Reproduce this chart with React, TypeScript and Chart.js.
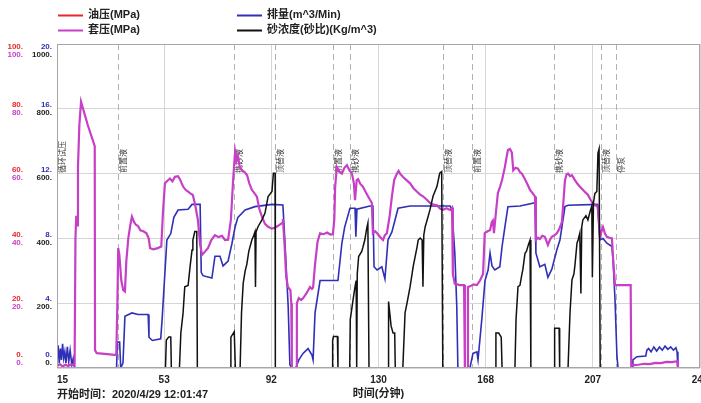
import React, { useEffect, useRef } from "react";
import { Chart, registerables } from "chart.js";

Chart.register(...registerables);

// ---------- DATA ----------
const X_MIN = 15;
const X_MAX = 245;
const X_TICK_VALUES = [15, 53.333, 91.667, 130, 168.333, 206.667, 245];
const X_TICK_LABELS = ["15", "53", "92", "130", "168", "207", "245"];

const PRESSURE_TICKS = [0, 20, 40, 60, 80, 100];
const RATE_TICKS = [0, 4, 8, 12, 16, 20];
const SAND_TICKS = [0, 200, 400, 600, 800, 1000];

const START_TIME_TEXT = "开始时间：2020/4/29 12:01:47";
const X_TITLE = "时间(分钟)";

const STAGE_TIMES = [15, 36.8, 78.3, 93.0, 113.7, 119.8, 153.1, 163.4, 192.8, 209.6, 214.9];
const STAGE_LABELS = ["循环试压", "前置液", "携砂液", "顶替液", "前置液", "携砂液", "顶替液", "前置液", "携砂液", "顶替液", "停泵"];

// 油压 (MPa)
const OIL_T = [15, 237.1];
const OIL_P = [0, 0];

// 套压 (MPa)
const CASING_T = [
  15, 16, 17, 18, 19, 20, 21.3, 21.6, 21.9, 22.2, 22.5, 23.0, 23.6, 26.0, 28.5, 28.6, 29.2, 33, 36.2, 36.6,
  36.9, 37.3, 38.0, 38.7, 39.3, 39.8, 40.5, 41.2, 41.8, 42.6, 43.2, 44.0, 44.8, 45.9, 47.0, 47.8, 48.3, 49.5, 51.0, 52.3,
  52.9, 53.6, 54.5, 55.4, 56.3, 57.2, 58.3, 59.0, 59.6, 60.1, 61.0, 61.9, 62.8, 63.6, 64.5, 65.4, 66.2, 66.9, 68.0, 69.0,
  70.2, 71.5, 72.8, 74.0, 75.1, 76.2, 77.2, 78.0, 78.7, 79.2, 79.7, 80.4, 81.2, 82.1, 83.0, 83.8, 84.7, 85.6, 86.5, 87.4,
  88.3, 89.4, 90.5, 91.8, 93.0, 94.3, 95.5, 95.8, 96.4, 97.0, 97.6, 98.5, 98.8, 99.0, 100.6, 100.8, 101.5, 102.3, 103.0, 104.2,
  105.5, 106.2, 106.6, 107.3, 108.2, 109.1, 110.4, 111.6, 112.8, 113.7, 114.2, 114.5, 115.1, 116.0, 116.9, 117.8, 118.7, 119.6, 120.5, 121.2,
  121.6, 122.2, 122.7, 123.5, 124.4, 125.6, 126.9, 127.6, 128.0, 128.8, 129.5, 130.5, 131.6, 132.3, 133.0, 134.0, 134.8, 135.6, 136.6, 137.2,
  137.7, 138.7, 140.0, 141.3, 142.5, 143.8, 144.8, 145.9, 147.2, 148.4, 149.6, 150.9, 152.0, 153.1, 154.3, 155.6, 156.3, 156.6, 157.3, 158.2,
  159.1, 160.6, 160.9, 161.8, 162.0, 162.7, 164.0, 165.2, 166.3, 167.4, 168.0, 169.0, 169.9, 170.5, 170.9, 171.3, 172.0, 172.7, 173.5, 174.2,
  175.2, 175.8, 176.3, 177.0, 177.7, 178.2, 179.0, 179.9, 180.6, 181.3, 182.2, 183.1, 184.2, 185.1, 186.0, 186.3, 187.0, 187.7, 188.6, 189.5,
  190.6, 191.3, 192.0, 193.0, 193.8, 194.7, 195.6, 196.2, 196.7, 197.3, 197.8, 198.5, 199.2, 200.1, 201.0, 202.0, 203.1, 204.0, 204.9, 205.8,
  206.7, 207.6, 208.5, 209.2, 209.7, 210.3, 211.0, 211.7, 212.6, 213.5, 213.9, 214.6, 217.0, 220.2, 220.4, 221.0, 223, 225, 227, 229,
  231, 233, 235, 236.8, 237.1,
];
const CASING_P = [
  0.6, 1.2, 0.5, 1.0, 0.6, 1.1, 0.8, 40, 47, 44, 62, 75, 82.2, 75, 68.5, 5.5, 4.6, 4.3, 4.0, 20,
  37, 35, 27, 24, 23.6, 33, 40, 44, 46.7, 45, 44.2, 43.8, 42.5, 42.2, 41.6, 40, 37, 36.6, 37, 37.5,
  48, 57, 57.8, 58.5, 57.6, 59, 59.2, 58.2, 57, 56, 55, 54.4, 53.8, 53.4, 50, 45.7, 38, 34.9, 36, 37,
  39.5, 41, 40.4, 40.8, 39.5, 39.6, 45.7, 58, 66.8, 64, 65.5, 62, 61, 60.5, 59.5, 57, 55, 54, 52.9, 49,
  46.7, 44.5, 43.6, 43.0, 43.3, 44.0, 44.7, 46, 38, 28, 25, 24, 20, 0, 0, 20, 21.6, 21, 21.5, 23,
  25, 24.4, 24.8, 32, 39, 41.6, 41.3, 41.8, 41.2, 41.3, 46, 56, 62, 60.5, 60, 61.8, 62.6, 61, 60, 57,
  51.8, 58, 58.3, 56.8, 56, 54, 52, 51, 41.6, 42.2, 41.6, 40.5, 39.5, 41, 41.6, 47, 53, 58, 60, 60.8,
  60, 59, 58, 57, 55.5, 54.4, 53.6, 53, 52, 51, 50.4, 50.2, 49.2, 48.8, 49.3, 48.8, 49.5, 29, 26, 25.8,
  25.6, 25.6, 0, 0, 25, 25.2, 25.8, 25.6, 27, 29, 41.6, 42.2, 42.5, 45, 45.5, 41.6, 48, 54, 56, 58,
  62, 65, 67.3, 67.6, 66.5, 61, 61.8, 61.5, 60.5, 60, 58.6, 57, 55, 54, 52.9, 39.5, 40.2, 39.8, 40.8, 40.5,
  38, 39.5, 40.5, 41, 41.6, 43, 45, 52, 58, 59.8, 60, 59.2, 59.5, 58.2, 57, 56, 55, 54.2, 53.5, 52,
  50.8, 50.2, 49.8, 40.5, 42, 43.5, 41.5, 40.5, 40.2, 40, 34, 25.6, 25.6, 25.6, 0.4, 0.9, 1.0, 1.3, 1.2, 1.6,
  1.5, 1.9, 1.8, 2.1, 0,
];

// 排量 (m^3/Min)
const RATE_T = [
  15, 15.4, 15.8, 16.2, 16.6, 17.0, 17.4, 17.8, 18.2, 18.7, 19.2, 19.7, 20.3, 20.8, 21.3, 36.3, 36.6, 37.4, 37.8, 38.6,
  39.3, 41.8, 44, 47.6, 47.9, 49.1, 52.1, 52.6, 54.3, 55.7, 56.8, 58.3, 61.9, 63.3, 66.2, 66.6, 67.2, 70.4, 71.5, 73.3,
  74.4, 76.2, 77.6, 78.7, 79.7, 82.3, 85.8, 91.9, 95.8, 96.5, 97.7, 98.3, 99.0, 100.4, 101.5, 103.0, 104.8, 106.2, 106.6, 107.3,
  109.1, 113.7, 115.5, 116.9, 117.9, 119.8, 121.6, 121.9, 122.3, 126.9, 128.0, 128.4, 129.5, 131.2, 132.3, 133.4, 134.8, 137.0, 141.3, 155.6,
  156.3, 157.3, 158.0, 158.4, 162.7, 163.8, 165.2, 165.6, 167.0, 168.1, 169.2, 169.9, 170.6, 171.6, 173.4, 174.2, 175.2, 176.3, 180.6, 186.0,
  186.3, 187.7, 189.5, 190.6, 192.0, 193.8, 194.9, 196.7, 197.8, 208.2, 208.5, 209.2, 210.3, 211.7, 213.5, 213.9, 214.6, 215.3, 215.7, 220.7,
  221.0, 222.4, 225.6, 226.0, 226.6, 227.5, 228.5, 229.5, 230.5, 231.5, 232.5, 233.5, 234.5, 235.5, 236.4, 236.8, 237.1,
];
const RATE_Q = [
  0.8, 1.4, 0.3, 1.2, 0.5, 1.5, 0.6, 1.0, 0.3, 1.3, 0.4, 1.1, 0.2, 0.6, 0, 0, 1.6, 1.6, 0, 0.3,
  3.2, 3.4, 3.3, 3.3, 1.9, 1.7, 1.8, 3, 7.9, 8.3, 9.3, 9.75, 9.8, 10.1, 10.1, 5.9, 5.7, 5.55, 6.9, 6.9,
  6.3, 6.6, 7.7, 8.7, 9.3, 9.75, 9.96, 10.1, 10.06, 7.9, 3.8, 0.2, 0, 0, 0.5, 0.9, 1.2, 0.8, 0.5, 3.4,
  5.4, 5.4, 5.4, 7.7, 8.7, 9.86, 9.86, 8.1, 9.8, 10, 10, 6.25, 6.05, 6.25, 5.5, 7.9, 8.4, 9.86, 10, 10,
  9.7, 7.1, 3.8, 0, 0, 0.9, 1.0, 0.5, 3.1, 5.4, 6.05, 7.1, 6.3, 6.05, 6.25, 7.5, 8.7, 9.96, 10.0, 10.2,
  7.1, 6.25, 6.4, 5.6, 6.1, 7.3, 7.9, 9.96, 10.05, 10.1, 9.6, 7.9, 8.0, 7.7, 7.5, 6.7, 4.2, 0.7, 0, 0,
  0.5, 0.7, 0.74, 1.1, 1.2, 1.0, 1.3, 1.05, 1.3, 1.1, 1.35, 1.15, 1.3, 1.1, 1.25, 1.0, 0,
];

// 砂浓度(砂比) (Kg/m^3)
const SAND_T = [
  15, 53.8, 54.1, 55.0, 55.7, 55.9, 58.8, 59.3, 60.1, 60.7, 61.9, 62.6, 63.3, 63.6, 64.3, 65.0, 65.2, 77.0, 77.2, 78.4,
  78.8, 80.5, 81.0, 81.6, 82.3, 82.9, 83.6, 84.7, 85.4, 85.8, 86.0, 86.2, 86.9, 88.3, 89.4, 90.5, 91.9, 92.4, 93.0, 93.1,
  113.4, 113.6, 113.9, 115.3, 115.5, 119.7, 119.9, 120.9, 121.6, 122.0, 122.2, 122.4, 122.9, 124.0, 124.4, 125.1, 125.8, 126.2, 126.6, 133.4,
  133.6, 134.5, 135.2, 135.8, 136.0, 138.7, 139.5, 140.2, 141.3, 142.0, 142.4, 143.8, 144.2, 144.9, 145.6, 145.9, 146.2, 146.7, 147.4, 148.4,
  149.5, 150.9, 151.9, 152.6, 153.0, 171.9, 172.0, 173.0, 173.9, 174.2, 178.8, 179.2, 179.9, 180.6, 181.3, 181.6, 182.4, 182.9, 183.6, 184.2,
  184.5, 192.8, 193.0, 194.6, 194.8, 197.8, 198.5, 199.2, 199.9, 200.3, 201.0, 201.4, 202.0, 202.4, 202.7, 203.1, 204.2, 204.9, 205.6, 206.3,
  206.5, 206.9, 207.4, 208.1, 208.5, 208.9, 209.3, 237.1,
];
const SAND_S = [
  0, 0, 86, 96, 96, 0, 0, 108, 170, 251, 255, 313, 364, 395, 421, 421, 0, 0, 95, 112,
  0, 0, 170, 261, 300, 320, 360, 395, 410, 420, 250, 420, 436, 457, 478, 529, 545, 601, 601, 0,
  0, 86, 97, 97, 0, 0, 150, 210, 251, 270, 0, 290, 344, 360, 372, 395, 432, 447, 0, 0,
  205, 130, 108, 108, 0, 0, 170, 200, 251, 290, 313, 374, 395, 401, 395, 251, 410, 436, 457, 488,
  530, 560, 601, 606, 0, 0, 108, 108, 95, 0, 0, 150, 251, 255, 290, 302, 354, 360, 380, 395,
  0, 0, 123, 123, 0, 0, 170, 272, 290, 320, 385, 395, 416, 230, 436, 457, 470, 457, 480, 500,
  280, 510, 539, 545, 663, 676, 0, 0,
];

// ---------- STYLE ----------
const C_OIL = "#e8262e";
const C_CASING = "#c63fc6";
const C_RATE = "#2f2fb8";
const C_SAND = "#111111";
const FONT_LATIN = '"Liberation Sans", "Noto Sans CJK SC", sans-serif';

const zip = (xs: number[], ys: number[]) => xs.map((x, i) => ({ x, y: ys[i] }));

const LEGEND_POS: Record<string, [number, number]> = {
  "油压(MPa)": [58, 15],
  "排量(m^3/Min)": [237, 15],
  "套压(MPa)": [58, 30],
  "砂浓度(砂比)(Kg/m^3)": [237, 30],
};

const decorPlugin = {
  id: "decor",
  beforeDatasetsDraw(chart: any) {
    const { ctx, chartArea, scales } = chart;
    const xs = scales.x;
    ctx.save();
    ctx.beginPath();
    ctx.rect(chartArea.left, chartArea.top, chartArea.right - chartArea.left, chartArea.bottom - chartArea.top);
    ctx.clip();
    STAGE_TIMES.forEach((t, i) => {
      const x = Math.round(xs.getPixelForValue(t)) + 0.5;
      ctx.strokeStyle = "#b2b2b2";
      ctx.lineWidth = 1;
      ctx.setLineDash([6, 4]);
      ctx.beginPath();
      ctx.moveTo(x, chartArea.top);
      ctx.lineTo(x, chartArea.bottom);
      ctx.stroke();
      ctx.setLineDash([]);
      ctx.save();
      ctx.translate(x + 4, chartArea.top + 129);
      ctx.rotate(-Math.PI / 2);
      ctx.font = '8px "Noto Sans CJK SC", sans-serif';
      ctx.fillStyle = "#3a3a3a";
      ctx.textAlign = "left";
      ctx.textBaseline = "middle";
      ctx.fillText(STAGE_LABELS[i], 0, 0);
      ctx.restore();
    });
    ctx.restore();
  },
  afterDraw(chart: any) {
    const { ctx, chartArea, scales } = chart;
    ctx.save();
    // plot border
    ctx.strokeStyle = "#a6a6a6";
    ctx.lineWidth = 1;
    ctx.strokeRect(chartArea.left + 0.5, chartArea.top + 0.5, chartArea.right - chartArea.left - 1, chartArea.bottom - chartArea.top - 1);

    // y tick labels (4 scales)
    ctx.font = "bold 8px " + FONT_LATIN;
    ctx.textBaseline = "middle";
    ctx.textAlign = "right";
    const last = PRESSURE_TICKS.length - 1;
    PRESSURE_TICKS.forEach((v, i) => {
      const gy = scales.yP.getPixelForValue(v);
      const off = i === last ? 7 : i === 0 ? -9 : 0;
      ctx.fillStyle = C_OIL;
      ctx.fillText(v + ".", 23, gy - 4 + off);
      ctx.fillStyle = C_CASING;
      ctx.fillText(v + ".", 23, gy + 4 + off);
    });
    RATE_TICKS.forEach((v, i) => {
      const gy = scales.yQ.getPixelForValue(v);
      const off = i === last ? 7 : i === 0 ? -9 : 0;
      ctx.fillStyle = C_RATE;
      ctx.fillText(v + ".", 52, gy - 4 + off);
    });
    SAND_TICKS.forEach((v, i) => {
      const gy = scales.yS.getPixelForValue(v);
      const off = i === last ? 7 : i === 0 ? -9 : 0;
      ctx.fillStyle = "#222";
      ctx.fillText(v + ".", 52, gy + 4 + off);
    });

    // start time
    ctx.font = "bold 11px " + FONT_LATIN;
    ctx.fillStyle = "#222";
    ctx.textAlign = "left";
    ctx.fillText(START_TIME_TEXT, chartArea.left, 395);

    // legend
    ctx.font = "bold 11px " + FONT_LATIN;
    chart.data.datasets.forEach((ds: any) => {
      const pos = LEGEND_POS[ds.label];
      if (!pos) return;
      const [lx, ly] = pos;
      ctx.strokeStyle = ds.borderColor;
      ctx.lineWidth = 2;
      ctx.beginPath();
      ctx.moveTo(lx, ly + 0.5);
      ctx.lineTo(lx + 25, ly + 0.5);
      ctx.stroke();
      ctx.fillStyle = "#222";
      ctx.textAlign = "left";
      ctx.textBaseline = "middle";
      ctx.fillText(ds.label, lx + 30, ly);
    });
    ctx.restore();
  },
};

export default function App() {
  const ref = useRef<HTMLCanvasElement | null>(null);
  useEffect(() => {
    if (!ref.current) return;
    const chart = new Chart(ref.current, {
      type: "line",
      data: {
        datasets: [
          { label: "油压(MPa)", data: zip(OIL_T, OIL_P), borderColor: C_OIL, borderWidth: 1.5, yAxisID: "yP" },
          { label: "砂浓度(砂比)(Kg/m^3)", data: zip(SAND_T, SAND_S), borderColor: C_SAND, borderWidth: 1.5, yAxisID: "yS" },
          { label: "套压(MPa)", data: zip(CASING_T, CASING_P), borderColor: C_CASING, borderWidth: 2.2, yAxisID: "yP" },
          { label: "排量(m^3/Min)", data: zip(RATE_T, RATE_Q), borderColor: C_RATE, borderWidth: 1.6, yAxisID: "yQ" },
        ] as any,
      },
      options: {
        responsive: false,
        devicePixelRatio: 1,
        animation: false,
        parsing: true,
        elements: { point: { radius: 0, hoverRadius: 0 }, line: { tension: 0, fill: false } },
        layout: { padding: { top: 44, right: 1, left: 0, bottom: 0 } },
        plugins: { legend: { display: false }, tooltip: { enabled: false }, title: { display: false } },
        events: [],
        scales: {
          x: {
            type: "linear",
            min: X_MIN,
            max: X_MAX,
            afterBuildTicks: (s: any) => {
              s.ticks = X_TICK_VALUES.map((v) => ({ value: v }));
            },
            afterFit: (s: any) => {
              s.height = 35;
              s.paddingLeft = 0;
              s.paddingRight = 0;
            },
            grid: { color: "#d6d6d6", drawTicks: false },
            border: { display: false },
            ticks: {
              maxRotation: 0,
              autoSkip: false,
              padding: 6,
              color: "#222",
              font: { size: 10, weight: "bold", family: FONT_LATIN },
              callback: (_v: any, i: number) => (i === 0 ? "    " : "") + X_TICK_LABELS[i],
            },
            title: {
              display: true,
              text: X_TITLE,
              color: "#222",
              font: { size: 11, weight: "bold", family: FONT_LATIN },
              padding: { top: 2, bottom: 2 },
            },
          },
          yP: {
            type: "linear",
            position: "left",
            min: 0,
            max: 100,
            afterBuildTicks: (s: any) => {
              s.ticks = PRESSURE_TICKS.map((v) => ({ value: v }));
            },
            afterFit: (s: any) => {
              s.width = 57;
              s.paddingTop = 0;
              s.paddingBottom = 0;
            },
            grid: { color: "#d6d6d6", drawTicks: false },
            border: { display: false },
            ticks: { display: false },
          },
          yQ: { type: "linear", display: false, min: 0, max: 20 },
          yS: { type: "linear", display: false, min: 0, max: 1000 },
        },
      } as any,
      plugins: [decorPlugin],
    });
    return () => chart.destroy();
  }, []);
  return (
    <div style={{ position: "fixed", left: 0, top: 0, width: 701, height: 403, background: "#fff" }}>
      <canvas ref={ref} width={701} height={403} style={{ display: "block" }} />
    </div>
  );
}
